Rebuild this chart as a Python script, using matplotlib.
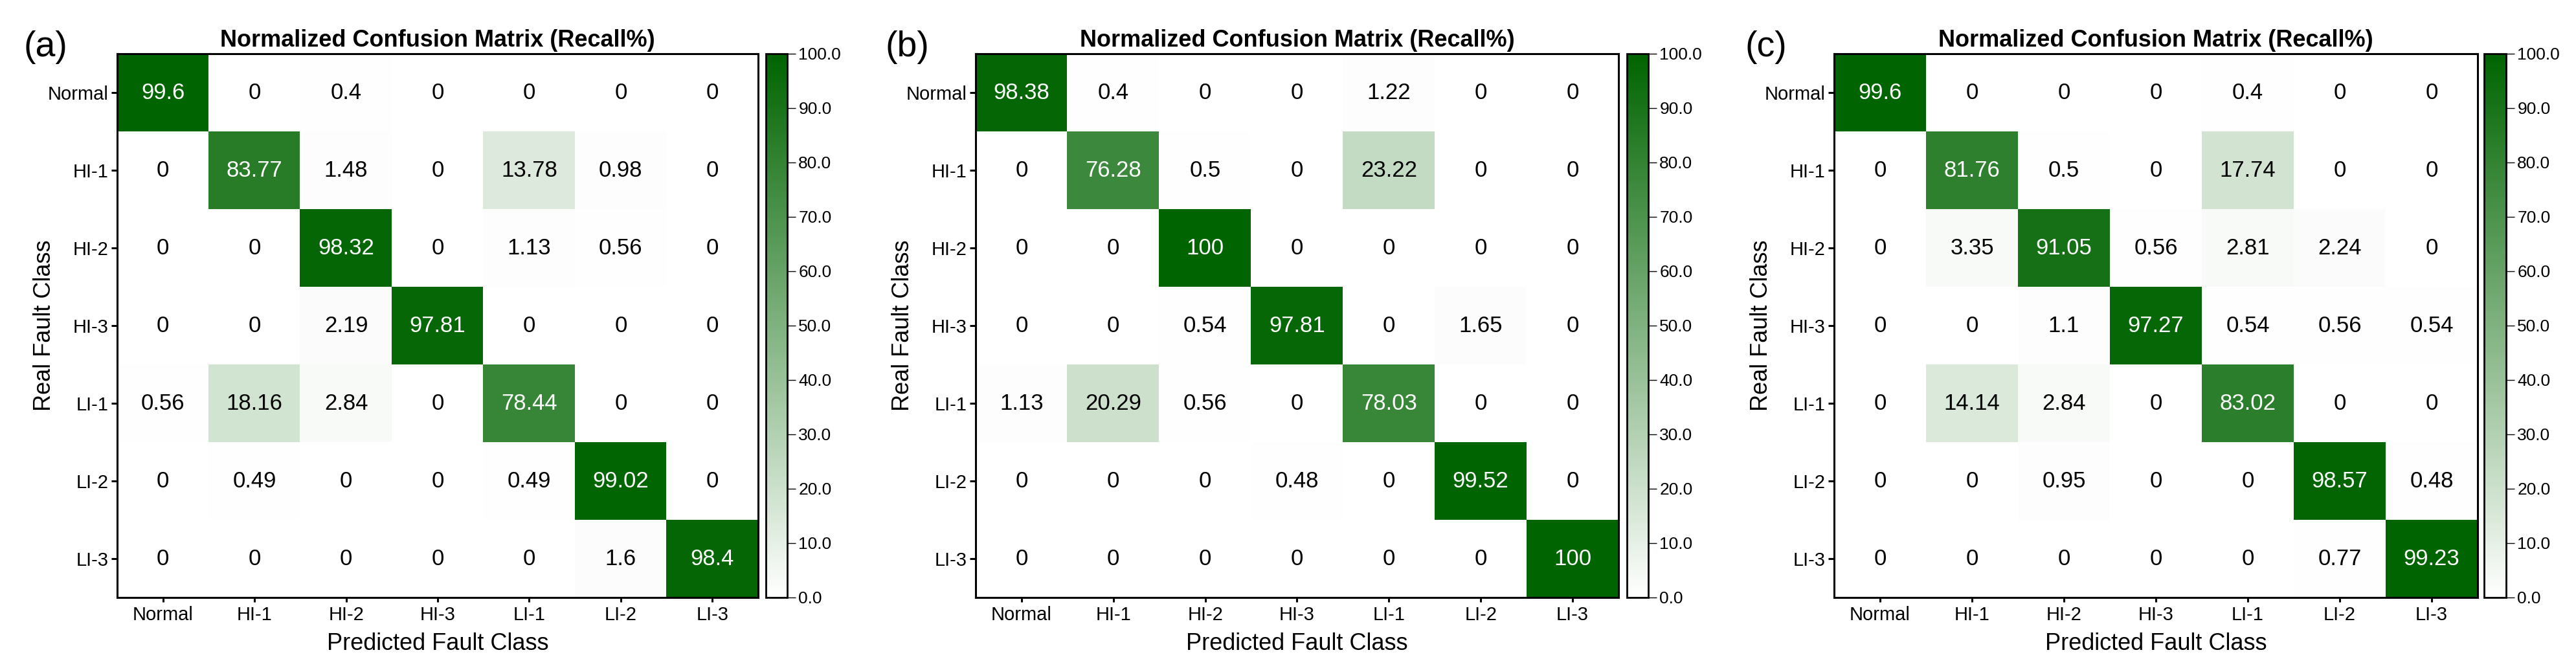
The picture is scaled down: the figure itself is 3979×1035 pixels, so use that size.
import numpy as np
import matplotlib
matplotlib.use("Agg")
import matplotlib.pyplot as plt
from matplotlib.colors import LinearSegmentedColormap

plt.rcParams['font.family'] = ['Liberation Sans', 'DejaVu Sans']

# class names (rows = real, cols = predicted)
classes = ["Normal", "HI-1", "HI-2", "HI-3", "LI-1", "LI-2", "LI-3"]
panel_tags = ["(a)", "(b)", "(c)"]

# recall (%) per panel
cm_a = [
    [99.6, 0, 0.4, 0, 0, 0, 0],
    [0, 83.77, 1.48, 0, 13.78, 0.98, 0],
    [0, 0, 98.32, 0, 1.13, 0.56, 0],
    [0, 0, 2.19, 97.81, 0, 0, 0],
    [0.56, 18.16, 2.84, 0, 78.44, 0, 0],
    [0, 0.49, 0, 0, 0.49, 99.02, 0],
    [0, 0, 0, 0, 0, 1.6, 98.4],
]
cm_b = [
    [98.38, 0.4, 0, 0, 1.22, 0, 0],
    [0, 76.28, 0.5, 0, 23.22, 0, 0],
    [0, 0, 100, 0, 0, 0, 0],
    [0, 0, 0.54, 97.81, 0, 1.65, 0],
    [1.13, 20.29, 0.56, 0, 78.03, 0, 0],
    [0, 0, 0, 0.48, 0, 99.52, 0],
    [0, 0, 0, 0, 0, 0, 100],
]
cm_c = [
    [99.6, 0, 0, 0, 0.4, 0, 0],
    [0, 81.76, 0.5, 0, 17.74, 0, 0],
    [0, 3.35, 91.05, 0.56, 2.81, 2.24, 0],
    [0, 0, 1.1, 97.27, 0.54, 0.56, 0.54],
    [0, 14.14, 2.84, 0, 83.02, 0, 0],
    [0, 0, 0.95, 0, 0, 98.57, 0.48],
    [0, 0, 0, 0, 0, 0.77, 99.23],
]
cbar_ticks = [0, 10, 20, 30, 40, 50, 60, 70, 80, 90, 100]

W, H = 3980, 1035
cmap = LinearSegmentedColormap.from_list("white_green", ["#ffffff", "#006400"])

fig = plt.figure(figsize=(W / 100, H / 100), dpi=100)

# pixel boxes: heatmap left/right, colorbar left/right, tag x center
boxes = [(181, 1171, 1183, 1216, 70),
         (1507, 2500, 2513, 2546, 1401),
         (2833, 3827, 3837, 3871, 2728)]
top, bottom = 83, 923


def px_rect(x0, x1, y0, y1):
    return [x0 / W, 1 - y1 / H, (x1 - x0) / W, (y1 - y0) / H]


for cm, tag, (hx0, hx1, cx0, cx1, tx) in zip([cm_a, cm_b, cm_c], panel_tags, boxes):
    data = np.array(cm, dtype=float)
    ax = fig.add_axes(px_rect(hx0, hx1, top, bottom))
    im = ax.imshow(data, cmap=cmap, vmin=0, vmax=100, aspect='auto',
                   interpolation='nearest')
    n = len(classes)
    for i in range(n):
        for j in range(n):
            v = data[i, j]
            ax.text(j, i, f"{v:g}", ha='center', va='center', fontsize=25,
                    color='white' if v > 50 else 'black')

    ax.set_xticks(range(n))
    ax.set_xticklabels(classes)
    ax.set_yticks(range(n))
    ax.set_yticklabels(classes)
    ax.tick_params(axis='x', labelsize=21, width=2.2, length=5, pad=4.5)
    ax.tick_params(axis='y', labelsize=21, width=2.2, length=6.5, pad=3)
    for s in ax.spines.values():
        s.set_linewidth(2.2)

    ax.set_xlabel("Predicted Fault Class", fontsize=26, labelpad=9)
    ax.set_ylabel("Real Fault Class", fontsize=26)
    ax.yaxis.set_label_coords(-0.096, 0.5)
    ax.set_title("Normalized Confusion Matrix (Recall%)", fontsize=26,
                 fontweight='bold', pad=8)

    cax = fig.add_axes(px_rect(cx0, cx1, top, bottom))
    cb = fig.colorbar(im, cax=cax, ticks=cbar_ticks, format="%.1f")
    cb.outline.set_linewidth(2)
    cax.tick_params(labelsize=19, width=1, length=9)

    fig.text(tx / W, 1 - 73 / H, tag, fontsize=40, ha='center', va='center')

fig.savefig("out.png", dpi=100)
